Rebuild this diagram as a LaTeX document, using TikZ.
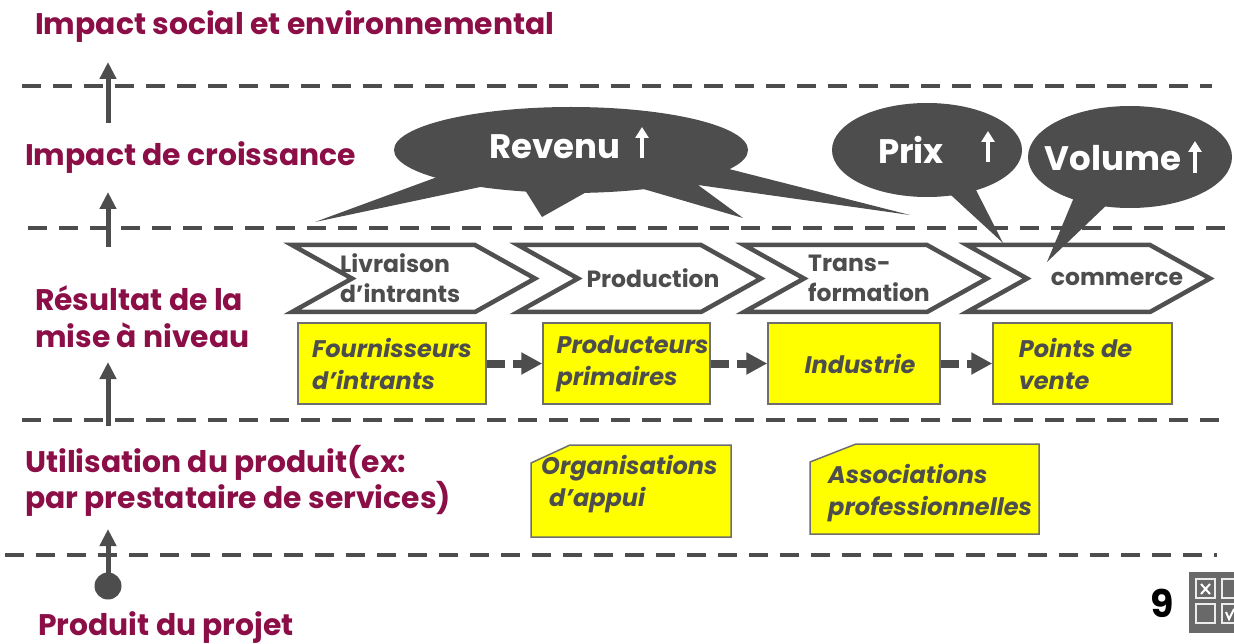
\documentclass[tikz,border=0pt]{standalone}
\usepackage{fontspec}
\setmainfont{Poppins}
\usetikzlibrary{arrows.meta,shapes.geometric}
\definecolor{lblred}{RGB}{140,14,70}
\definecolor{dgray}{RGB}{77,77,77}
\definecolor{cgray}{RGB}{80,80,80}
\definecolor{bgray}{RGB}{110,110,110}
\definecolor{igray}{RGB}{105,105,105}
\definecolor{yel}{RGB}{255,255,0}
\tikzset{
 lbl/.style={font=\fontsize{29.8}{34}\selectfont\bfseries, text=lblred, inner sep=0, anchor=west, align=left},
 dline/.style={draw=dgray, line width=4pt, dash pattern=on 19pt off 12pt},
 varrow/.style={draw=dgray, line width=5pt, -{Triangle[length=17pt,width=16pt]}},
 chevst/.style={draw=cgray, line width=4.5pt, fill=white, line join=miter},
 chevtxt/.style={font=\fontsize{23.5}{30}\selectfont\bfseries, text=dgray, inner sep=0, align=left},
 ybox/.style={draw=bgray, line width=1.5pt, fill=yel, rectangle, inner sep=0,
   font=\fontsize{24}{32}\selectfont\bfseries\itshape, text=dgray, align=left},
 ytxt/.style={font=\fontsize{24}{32}\selectfont\bfseries\itshape, text=dgray, inner sep=0, align=left, anchor=west},
 bubble/.style={fill=dgray, draw=none, ellipse, inner sep=0},
 btxt/.style={font=\fontsize{34}{36}\selectfont\bfseries, text=white, inner sep=0},
 warrow/.style={draw=white, line width=4pt, -{Triangle[length=11pt,width=13pt]}},
 barrow/.style={draw=dgray, line width=8pt, dash pattern=on 18pt off 8pt, -{Triangle[length=21pt,width=21pt]}},
}
\begin{document}
\begin{tikzpicture}[x=1pt,y=-1pt]
\useasboundingbox (0,0) rectangle (1234,644);

% dashed level lines
\coordinate (d1a) at (22,86);  \coordinate (d1b) at (1212,86);
\coordinate (d2a) at (28,228); \coordinate (d2b) at (1232,228);
\coordinate (d3a) at (22,420); \coordinate (d3b) at (1224,420);
\coordinate (d4a) at (5,555);  \coordinate (d4b) at (1217,555);
\draw[dline] (d1a) -- (d1b);
\draw[dline] (d2a) -- (d2b);
\draw[dline] (d3a) -- (d3b);
\draw[dline] (d4a) -- (d4b);

% left labels
\node[lbl] (l1) at (35,27) {Impact social et environnemental};
\node[lbl] (l2) at (25,158) {Impact de croissance};
\node[lbl] (l3) at (35,317) {Résultat de la\\[3pt]mise à niveau};
\node[lbl] (l4) at (25,481) {Utilisation du produit(ex:\\par prestataire de services)};
\node[lbl] (l5) at (38,628) {Produit du projet};

% vertical arrows
\coordinate (a1s) at (108,123); \coordinate (a1e) at (108,62);
\coordinate (a2s) at (108,247); \coordinate (a2e) at (108,192);
\coordinate (a3s) at (108,426); \coordinate (a3e) at (108,362);
\node[circle, fill=dgray, minimum size=27pt, inner sep=0] (dot) at (108,586) {};
\coordinate (a4e) at (108,529);
\draw[varrow] (a1s) -- (a1e);
\draw[varrow] (a2s) -- (a2e);
\draw[varrow] (a3s) -- (a3e);
\draw[varrow] (dot.center) -- (a4e);

% chevrons
\foreach \L in {292,518,744,967}{
  \draw[chevst] (\L,245) -- (\L+183,245) -- (\L+243,278.5) -- (\L+183,312) -- (\L,312) -- (\L+60,278.5) -- cycle;
}
\node[chevtxt, anchor=west] (c1) at (340,278) {Livraison\\d’intrants};
\node[chevtxt] (c2) at (653,278) {Production};
\node[chevtxt, anchor=west] (c3) at (808,278) {Trans-\\formation};
\node[chevtxt] (c4) at (1117,279) {commerce};

% yellow boxes
\node[ybox, minimum width=188pt, minimum height=81pt] (f1) at (392,363.5) {Fournisseurs\\d’intrants};
\node[ybox, minimum width=167pt, minimum height=81pt] (f2) at (626.5,363.5) {\hspace*{12pt}Producteurs\\\hspace*{12pt}primaires};
\node[ybox, minimum width=172pt, minimum height=81pt] (f3) at (854,363.5) {\hspace*{12pt}Industrie};
\node[ybox, minimum width=179pt, minimum height=81pt] (f4) at (1082.5,363.5) {Points de\hspace*{14pt}\\vente};
\draw[barrow] (f1.east) -- (f2.west);
\draw[barrow] (f2.east) -- (f3.west);
\draw[barrow] (f3.east) -- (f4.west);

% cut-corner boxes
\draw[draw=bgray, line width=1.5pt, fill=yel] (570,445) -- (731,445) -- (731,537) -- (531,537) -- (531,463) -- cycle;
\node[ytxt] (org) at (541,484) {Organisations\\\hspace*{8pt}d’appui};
\draw[draw=bgray, line width=1.5pt, fill=yel] (856,444) -- (1039,444) -- (1039,534) -- (810,534) -- (810,462) -- cycle;
\node[ytxt] (asso) at (828,493) {Associations\\professionnelles};

% callouts
\fill[dgray] (440,176) -- (315,222) -- (485,186) -- cycle;
\fill[dgray] (525,190) -- (542,217) -- (590,190) -- cycle;
\fill[dgray] (640,188) -- (743,218) -- (698,185) -- (910,215) -- (725,168) -- cycle;
\node[bubble, minimum width=354pt, minimum height=86pt] (rev) at (571,150) {};
\fill[dgray] (940,185) -- (1003,243) -- (975,188) -- cycle;
\node[bubble, minimum width=190pt, minimum height=94pt] (prix) at (927,150) {};
\fill[dgray] (1075,195) -- (1047,262) -- (1112,200) -- cycle;
\node[bubble, minimum width=204pt, minimum height=102pt] (vol) at (1130,157) {};

\node[btxt] (trev) at (555,147) {Revenu};
\node[btxt] (tprix) at (911,150) {Prix};
\node[btxt] (tvol) at (1113,158) {Volume};
\coordinate (w1s) at (642,158); \coordinate (w1e) at (642,127);
\coordinate (w2s) at (988,162); \coordinate (w2e) at (988,131);
\coordinate (w3s) at (1195,173); \coordinate (w3e) at (1195,141);
\draw[warrow] (w1s) -- (w1e);
\draw[warrow] (w2s) -- (w2e);
\draw[warrow] (w3s) -- (w3e);

% page number and icon
\node[font=\fontsize{38}{42}\selectfont\bfseries, text=black, inner sep=0] (num) at (1162,603) {9};
\begin{scope}
\clip (0,0) rectangle (1234,644);
\fill[igray] (1189,572) rectangle (1240,633);
\draw[white!85!gray, line width=1.5pt] (1196,579) rectangle (1215,598);
\draw[white!85!gray, line width=1.5pt] (1222,579) rectangle (1241,598);
\draw[white!85!gray, line width=1.5pt] (1196,604) rectangle (1215,623);
\draw[white!85!gray, line width=1.5pt] (1222,604) rectangle (1241,623);
\draw[white, line width=2pt] (1201,584) -- (1210,594) (1210,584) -- (1201,594);
\draw[white, line width=2pt] (1226,612) -- (1229,619) -- (1234,609);
\end{scope}
\end{tikzpicture}
\end{document}
